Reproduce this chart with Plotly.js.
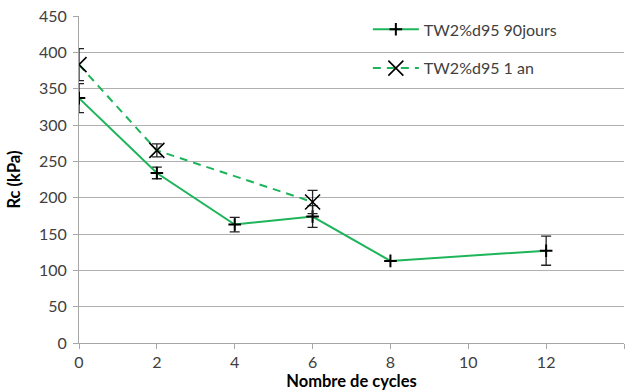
<!DOCTYPE html>
<html>
<head>
<meta charset="utf-8">
<script src="https://cdn.plot.ly/plotly-3.0.1.min.js"></script>
<style>html,body{margin:0;padding:0;background:#fff;}#chart{width:631px;height:392px;}</style>
</head>
<body>
<div id="chart"></div>
<script>
const cycles90 = [0, 2, 4, 6, 8, 12];
const rc90 = [337, 234, 163, 174, 113, 127];
const err90 = [20, 8, 10, 15, 0, 20];

const cycles1an = [0, 2, 6];
const rc1an = [383, 265, 194];
const err1an = [22, 9, 16];

const name90 = 'TW2%d95 90jours';
const name1an = 'TW2%d95 1 an';

const green = '#1DB45A';
const fontFam = 'Lato, "Open Sans", "Liberation Sans", sans-serif';

const traces = [
  {
    x: cycles90, y: rc90, name: name90, type: 'scatter', mode: 'lines+markers',
    legendgroup: 'a',
    line: {color: green, width: 2},
    marker: {symbol: 'cross-thin', size: 9, color: '#000', line: {color: '#000', width: 2}},
    error_y: {type: 'data', array: err90, visible: true, color: '#222', thickness: 1.3, width: 5}
  },
  {
    x: cycles1an, y: rc1an, name: name1an, type: 'scatter', mode: 'lines+markers',
    legendgroup: 'b',
    line: {color: green, width: 2, dash: '8px,6px'},
    marker: {symbol: 'x-thin', size: 15, color: '#000', line: {color: '#000', width: 1.6}},
    error_y: {type: 'data', array: err1an, visible: true, color: '#222', thickness: 1.3, width: 5}
  }
];

const layout = {
  width: 631, height: 392,
  margin: {l: 79, r: 7, t: 16, b: 49},
  paper_bgcolor: '#fff', plot_bgcolor: '#fff',
  font: {family: fontFam, size: 16, color: '#404040'},
  showlegend: true,
  legend: {
    x: 0.53, y: 1.011, xanchor: 'left', yanchor: 'top',
    bgcolor: 'rgba(0,0,0,0)', borderwidth: 0,
    itemwidth: 46,
    font: {family: fontFam, size: 16, color: '#404040'},
    traceorder: 'grouped', tracegroupgap: 15
  },
  xaxis: {
    range: [0, 14], dtick: 2, tick0: 0,
    showgrid: false, zeroline: false,
    showline: true, linecolor: '#a6a6a6', linewidth: 1,
    ticks: 'outside', ticklen: 5, tickcolor: '#a6a6a6',
    tickfont: {size: 16, color: '#404040'},
    title: {text: '<b>Nombre de cycles</b>', font: {size: 16.5, color: '#000'}, standoff: 2}
  },
  yaxis: {
    range: [0, 450], dtick: 50, tick0: 0,
    showgrid: true, gridcolor: '#b0b0b0', gridwidth: 1,
    zeroline: false,
    showline: true, linecolor: '#a6a6a6', linewidth: 1,
    ticks: 'outside', ticklen: 5, tickcolor: '#a6a6a6',
    ticklabelstandoff: 3,
    tickfont: {size: 16, color: '#404040'},
    title: {text: '<b>Rc (kPa)</b>', font: {size: 16.5, color: '#000'}, standoff: 14}
  }
};

Plotly.newPlot('chart', traces, layout, {displayModeBar: false, staticPlot: true});
</script>
</body>
</html>
